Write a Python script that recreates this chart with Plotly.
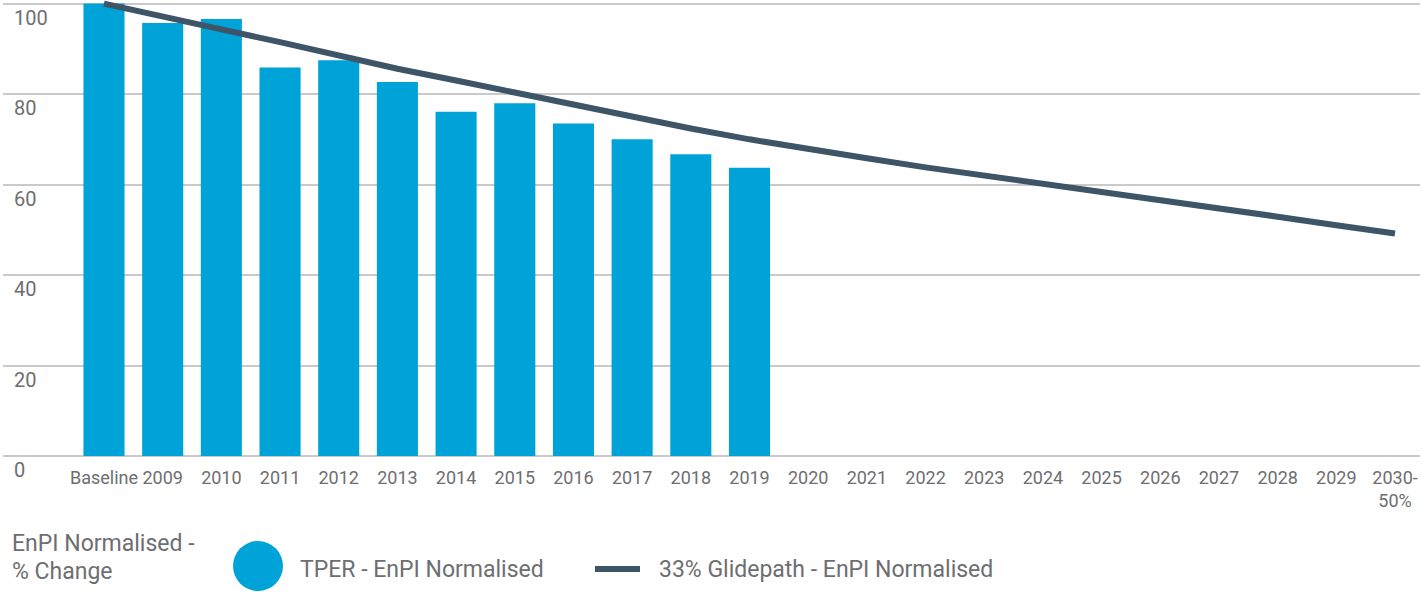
import plotly.graph_objects as go

# ---- data ----
categories = ["Baseline", "2009", "2010", "2011", "2012", "2013", "2014", "2015",
              "2016", "2017", "2018", "2019", "2020", "2021", "2022", "2023",
              "2024", "2025", "2026", "2027", "2028", "2029", "2030-<br>50%"]
tper_values = [100.0, 95.7, 96.6, 85.9, 87.5, 82.7, 76.1, 78.0, 73.5, 70.0, 66.7, 63.7]
glidepath_values = [100.0, 97.0, 94.3, 91.5, 88.4, 85.6, 83.0, 80.3, 77.6, 75.0, 72.4,
                    70.0, 67.8, 65.8, 63.8, 62.0, 60.3, 58.6, 56.7, 54.8, 52.9, 51.0, 49.2]
y_ticks = [0, 20, 40, 60, 80, 100]
y_tick_labels = ["0", "20", "40", "60", "80", "100"]
legend_title = ["EnPI Normalised -", "% Change"]
series_names = ["TPER - EnPI Normalised", "33% Glidepath - EnPI Normalised"]

# ---- style ----
BAR_COLOR = "#00a3d8"
LINE_COLOR = "#3e5467"
TEXT_COLOR = "#6d6e71"
GRID_COLOR = "#cacaca"
FONT = "Roboto, 'Open Sans', 'DejaVu Sans', sans-serif"

W, H = 1422, 592
ML, MR, MT, MB = 3, 2, 0, 136
PW, PH = W - ML - MR, H - MT - MB


def px_x(px):
    return (px - ML) / PW


def px_y(py):
    return (H - MB - py) / PH


fig = go.Figure()
fig.add_trace(go.Bar(
    x=categories[:len(tper_values)], y=tper_values, name=series_names[0],
    marker=dict(color=BAR_COLOR, line=dict(width=0)), showlegend=False,
))
fig.add_trace(go.Scatter(
    x=categories, y=glidepath_values, name=series_names[1], mode="lines",
    line=dict(color=LINE_COLOR, width=6), showlegend=False,
))

annotations = []
for v, t in zip(y_ticks, y_tick_labels):
    annotations.append(dict(
        x=0, xref="paper", y=v, yref="y", text=t, showarrow=False,
        xanchor="left", yanchor="middle", xshift=9, yshift=-14,
        font=dict(size=20, color=TEXT_COLOR, family=FONT),
    ))

# manual legend
annotations.append(dict(x=px_x(10), xref="paper", y=px_y(543), yref="paper",
                        text=legend_title[0], showarrow=False, xanchor="left", yanchor="middle",
                        font=dict(size=23, color=TEXT_COLOR, family=FONT)))
annotations.append(dict(x=px_x(10), xref="paper", y=px_y(571), yref="paper",
                        text=legend_title[1], showarrow=False, xanchor="left", yanchor="middle",
                        font=dict(size=23, color=TEXT_COLOR, family=FONT)))
annotations.append(dict(x=px_x(298), xref="paper", y=px_y(569), yref="paper",
                        text=series_names[0], showarrow=False, xanchor="left", yanchor="middle",
                        font=dict(size=23, color=TEXT_COLOR, family=FONT)))
annotations.append(dict(x=px_x(657), xref="paper", y=px_y(569), yref="paper",
                        text=series_names[1], showarrow=False, xanchor="left", yanchor="middle",
                        font=dict(size=23, color=TEXT_COLOR, family=FONT)))

shapes = [
    dict(type="circle", xref="paper", yref="paper",
         x0=px_x(233), x1=px_x(283), y0=px_y(591), y1=px_y(541),
         fillcolor=BAR_COLOR, line=dict(width=0)),
    dict(type="line", xref="paper", yref="paper",
         x0=px_x(595), x1=px_x(640), y0=px_y(569), y1=px_y(569),
         line=dict(color=LINE_COLOR, width=6)),
]

fig.update_layout(
    width=W, height=H,
    margin=dict(l=ML, r=MR, t=MT, b=MB, pad=0),
    paper_bgcolor="white", plot_bgcolor="white",
    font=dict(family=FONT, color=TEXT_COLOR, size=18),
    bargap=0.30,
    annotations=annotations,
    shapes=shapes,
    xaxis=dict(
        type="category", categoryorder="array", categoryarray=categories,
        range=[-1.721, 22.426], showgrid=False, showline=False, zeroline=False,
        ticks="", tickangle=0, tickfont=dict(size=18, color=TEXT_COLOR, family=FONT),
        ticklabelstandoff=9, fixedrange=True,
    ),
    yaxis=dict(
        range=[0, 100.8], tickvals=y_ticks, showticklabels=False,
        showgrid=True, gridcolor=GRID_COLOR, gridwidth=1.5,
        zeroline=True, zerolinecolor=GRID_COLOR, zerolinewidth=1.5,
        showline=False, ticks="", fixedrange=True,
    ),
)

fig.write_html("out.html", config={"displayModeBar": False},
               post_script="document.body.style.margin='0';document.body.style.overflow='hidden';")
